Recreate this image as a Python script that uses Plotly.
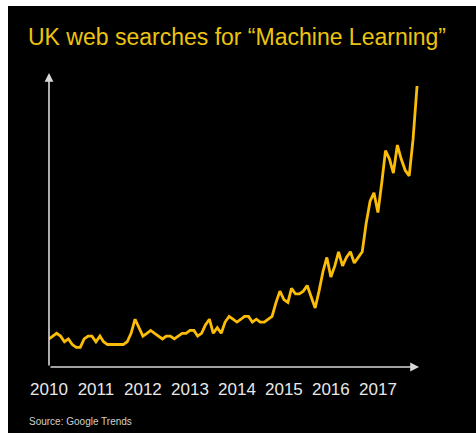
import pandas as pd
import plotly.graph_objects as go

# Monthly Google Trends interest, Jan 2010 - Nov 2017 (peak = 100)
months = pd.date_range("2010-01-01", periods=95, freq="MS")
interest = [
    10, 11, 12, 11, 9, 10, 8, 7, 7, 10, 11, 11,      # 2010
    9, 11, 9, 8, 8, 8, 8, 8, 9, 12, 17, 14,          # 2011
    11, 12, 13, 12, 11, 10, 11, 11, 10, 11, 12, 12,  # 2012
    13, 13, 11, 12, 15, 17, 12, 14, 12, 16, 18, 17,  # 2013
    16, 17, 18, 18, 16, 17, 16, 16, 17, 18, 23, 27,  # 2014
    24, 23, 28, 26, 26, 27, 29, 25, 21, 27, 34, 39,  # 2015
    32, 36, 41, 36, 39, 41, 37, 39, 41, 51, 59, 62,  # 2016
    55, 66, 77, 74, 69, 79, 74, 70, 68, 81, 100,     # 2017
]
year_ticks = ["2010", "2011", "2012", "2013", "2014", "2015", "2016", "2017"]

TITLE = "UK web searches for \u201cMachine Learning\u201d"
SOURCE = "Source: Google Trends"

W, H = 476, 433
L, R, T, B = 49, 56, 70, 66
PW, PH = W - L - R, H - T - B


def px_x(p):
    return (p - L) / PW


def px_y(p):
    return (H - B - p) / PH


fig = go.Figure()
fig.add_trace(go.Scatter(
    x=months, y=interest, mode="lines",
    line=dict(color="#fbbd08", width=2.8, shape="linear"),
    hoverinfo="skip",
))

fig.update_layout(
    width=W, height=H,
    margin=dict(l=L, r=R, t=T, b=B),
    paper_bgcolor="white",
    plot_bgcolor="black",
    showlegend=False,
    font=dict(family="Liberation Sans, Arial, sans-serif", color="#e6e6e6"),
    xaxis=dict(
        range=["2010-01-01", "2017-11-24"],
        tickvals=[f"{y}-01-01" for y in year_ticks],
        ticktext=year_ticks,
        tickfont=dict(size=17, color="#e8e8e8"),
        ticks="outside", ticklen=7, tickcolor="rgba(0,0,0,0)",
        showgrid=False, zeroline=False, showline=False,
    ),
    yaxis=dict(
        range=[0, 105.7],
        showticklabels=False, showgrid=False, zeroline=False, showline=False,
    ),
)

# black backdrop over the page (leaves a thin white edge at left and top)
fig.add_shape(type="rect", xref="paper", yref="paper",
              x0=px_x(8), x1=px_x(W + 20), y0=px_y(H + 20), y1=px_y(6),
              fillcolor="black", line=dict(width=0), layer="below")

# axes drawn as arrows
fig.add_annotation(xref="paper", yref="paper", x=px_x(49), y=px_y(73),
                   ax=0, ay=294, axref="pixel", ayref="pixel", text="",
                   showarrow=True, arrowhead=2, arrowsize=1.1, arrowwidth=1.6,
                   arrowcolor="#d8d8d8")
fig.add_annotation(xref="paper", yref="paper", x=px_x(419), y=px_y(367),
                   ax=-370, ay=0, axref="pixel", ayref="pixel", text="",
                   showarrow=True, arrowhead=2, arrowsize=1.1, arrowwidth=1.6,
                   arrowcolor="#d8d8d8")

fig.add_annotation(xref="paper", yref="paper", x=px_x(26), y=px_y(37),
                   xanchor="left", yanchor="middle", showarrow=False,
                   text=TITLE, font=dict(size=23, color="#ecc410"))
fig.add_annotation(xref="paper", yref="paper", x=px_x(27), y=px_y(421),
                   xanchor="left", yanchor="middle", showarrow=False,
                   text=SOURCE, font=dict(size=10, color="#d0d0d0"))

fig.write_html("out.html")
